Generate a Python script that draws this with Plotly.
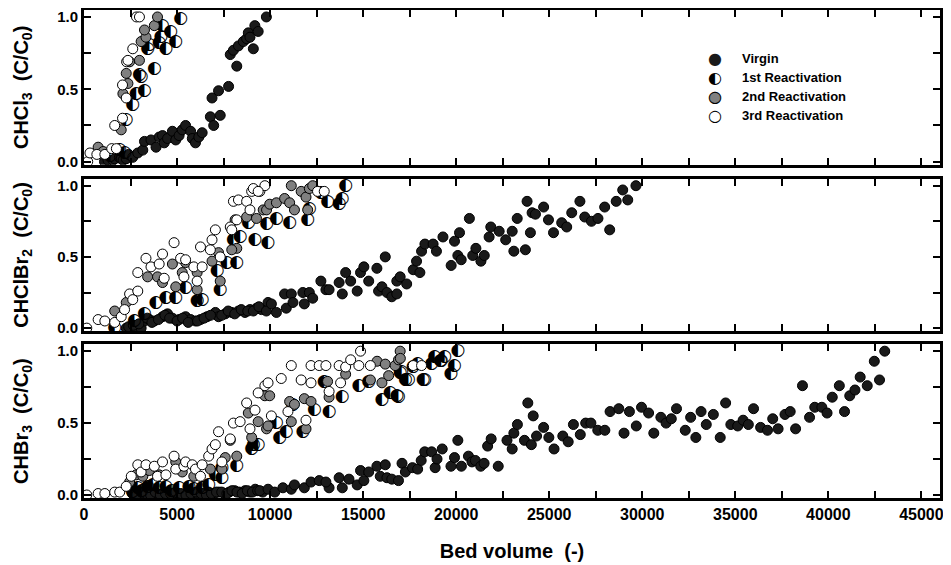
import plotly.graph_objects as go
from plotly.subplots import make_subplots

# ---- CHCl3 panel ----
chcl3_virgin_x = [1100, 1290, 1560, 1650, 1900, 2000, 2100, 2270, 2400, 2620, 2890, 3160, 3250, 3600, 3870,
                  4040, 4220, 4310, 4490, 4750, 4930, 5110, 5280, 5460, 5730, 5820, 5990, 6170, 6350, 6790,
                  6970, 7320, 6880, 7230, 7770, 7860, 8030, 8210, 8300, 8560, 8740, 8830, 8920, 9100, 9180,
                  9360, 9800]
chcl3_virgin_y = [0.00, 0.01, 0.01, 0.02, 0.03, 0.02, 0.01, 0.02, 0.05, 0.03, 0.06, 0.08, 0.14, 0.15, 0.10,
                  0.17, 0.18, 0.13, 0.16, 0.21, 0.15, 0.18, 0.22, 0.25, 0.21, 0.16, 0.13, 0.17, 0.20, 0.31,
                  0.25, 0.32, 0.44, 0.49, 0.52, 0.74, 0.77, 0.66, 0.80, 0.83, 0.85, 0.89, 0.86, 0.78, 0.94,
                  0.90, 1.00]
chcl3_r1_x = [1400, 1920, 2180, 2270, 2620, 2800, 2980, 3250, 3070, 3780, 3420, 4040, 4130, 4400, 4220,
              4660, 4930, 5190, 3510]
chcl3_r1_y = [0.04, 0.08, 0.06, 0.29, 0.39, 0.47, 0.60, 0.49, 0.59, 0.64, 0.78, 0.82, 0.86, 0.78, 0.94,
              0.90, 0.83, 0.99, 0.81]
chcl3_r2_x = [760, 1030, 2000, 2090, 2360, 2270, 2980, 3070, 3330, 3250, 3780, 3950, 2450]
chcl3_r2_y = [0.10, 0.07, 0.22, 0.47, 0.54, 0.61, 0.70, 0.83, 0.86, 0.91, 0.94, 1.00, 0.69]
chcl3_r3_x = [200, 320, 690, 1120, 1490, 1650, 2070, 2070, 2270, 2290, 2360, 2620, 2820, 2980, 1740]
chcl3_r3_y = [0.00, 0.06, 0.05, 0.05, 0.09, 0.25, 0.30, 0.53, 0.44, 0.69, 0.70, 0.78, 1.00, 1.00, 0.09]

# ---- CHClBr2 panel ----
chclbr2_virgin_x = [2270, 2540, 2800, 3070, 3250, 3510, 3780, 4220, 4490, 4750, 5110, 5460, 5730, 5990, 6260,
                    6610, 7060, 7230, 7590, 7940, 8300, 8650, 8920, 9270, 9540, 9890,
                    2400, 2650, 2950, 3400, 3650, 4000, 4350, 4600, 5000, 5300, 5600, 6100, 6450, 6800,
                    7400, 7750, 8100, 8450, 8800, 9100, 9400,
                    9800, 10070, 10340, 10780, 10870, 11140, 11230, 11760, 11840, 12110, 12290, 12730, 13000,
                    13170, 13710, 13880, 14060, 14330, 14680, 14860, 15040, 15300, 15740, 15830, 16010, 16190,
                    16280, 16540, 16810, 16810, 16990, 17340, 17690, 17870, 18050,
                    18140, 18320, 18760, 18940, 19290, 19730, 19910, 20090, 20180, 20270, 20710, 20890, 21060,
                    21330, 21510, 21770, 21860, 22310, 22660, 23010, 23100, 23280, 23720, 23810, 23990, 24080,
                    24260, 24700, 24960, 25230, 25670, 25940, 26210, 26650, 26910, 27270, 27620, 27980, 28250,
                    28600, 28950, 29220, 29660]
chclbr2_virgin_y = [0.00, 0.00, 0.00, 0.00, 0.05, 0.06, 0.05, 0.08, 0.10, 0.07, 0.06, 0.08, 0.06, 0.05, 0.06,
                    0.08, 0.11, 0.08, 0.10, 0.11, 0.12, 0.11, 0.13, 0.14, 0.13, 0.18,
                    0.01, 0.02, 0.03, 0.07, 0.04, 0.06, 0.09, 0.07, 0.05, 0.07, 0.04, 0.05, 0.07, 0.09,
                    0.09, 0.12, 0.10, 0.13, 0.12, 0.12, 0.15,
                    0.12, 0.17, 0.11, 0.24, 0.14, 0.24, 0.18, 0.25, 0.17, 0.25, 0.21, 0.33, 0.27,
                    0.27, 0.32, 0.24, 0.39, 0.33, 0.26, 0.39, 0.43, 0.33, 0.42, 0.26, 0.29, 0.50,
                    0.25, 0.22, 0.24, 0.33, 0.36, 0.31, 0.41, 0.47, 0.39,
                    0.54, 0.59, 0.59, 0.54, 0.64, 0.44, 0.61, 0.51, 0.67, 0.48, 0.77, 0.51, 0.56,
                    0.47, 0.51, 0.64, 0.71, 0.68, 0.62, 0.68, 0.54, 0.77, 0.55, 0.89, 0.67, 0.81,
                    0.80, 0.85, 0.76, 0.67, 0.74, 0.71, 0.81, 0.89, 0.78, 0.75, 0.77, 0.85, 0.69,
                    0.89, 0.97, 0.90, 1.00]
chclbr2_r1_x = [1650, 2710, 3250, 3870, 4400, 4930, 5460, 6080, 6350, 7320, 7150, 7680, 8210, 8030, 8390,
                9180, 9810, 8830, 9890, 10340, 11050, 12020, 12110, 13090, 13710, 13880, 14060, 12730]
chclbr2_r1_y = [0.00, 0.05, 0.10, 0.18, 0.21, 0.21, 0.28, 0.19, 0.20, 0.27, 0.40, 0.46, 0.46, 0.62, 0.64,
                0.62, 0.73, 0.74, 0.60, 0.77, 0.74, 0.76, 0.84, 0.89, 0.87, 0.91, 1.00, 0.95]
chclbr2_r2_x = [1650, 2270, 3420, 3950, 4220, 4750, 4930, 5280, 5460, 6080, 6080, 6880, 7230, 7320, 8210,
                7940, 8120, 8740, 9270, 9630, 9810, 9980, 10340, 10780, 11050, 11140, 11310, 11670, 11930,
                12020, 12110, 12290]
chclbr2_r2_y = [0.12, 0.18, 0.36, 0.36, 0.32, 0.45, 0.29, 0.39, 0.46, 0.39, 0.27, 0.47, 0.53, 0.33, 0.56,
                0.55, 0.76, 0.78, 0.77, 0.83, 0.83, 0.87, 0.88, 0.91, 0.88, 1.00, 0.83, 0.96, 0.92,
                0.83, 0.98, 1.00]
chclbr2_r3_x = [150, 760, 1120, 1650, 2000, 2180, 2450, 2620, 2890, 2890, 3330, 3600, 4040, 4220, 4310,
                4840, 5190, 5460, 5370, 5900, 6080, 6260, 6350, 6790, 6880, 7060, 7320, 7860, 7940, 8030,
                8300, 8740, 9010, 9100, 9450, 9720, 8210, 8920, 9360, 12550, 12910]
chclbr2_r3_y = [0.00, 0.06, 0.05, 0.04, 0.08, 0.13, 0.24, 0.20, 0.39, 0.26, 0.49, 0.43, 0.45, 0.52, 0.35,
                0.60, 0.49, 0.48, 0.36, 0.43, 0.33, 0.57, 0.43, 0.55, 0.62, 0.69, 0.50, 0.71, 0.69, 0.89,
                0.90, 0.89, 0.96, 0.98, 0.96, 1.00, 0.76, 0.83, 0.96, 0.96, 0.96]

# ---- CHBr3 panel ----
chbr3_virgin_x = [2700, 2950, 3200, 3450, 3700, 3950, 4250, 4500, 4800, 5050, 5350, 5600, 5900, 6150, 6450,
                  6700, 7000, 7250, 7550, 7800, 8100, 8350, 8650, 8900, 9200,
                  2600, 2820, 3080, 3330, 3580, 3830, 4100, 4380, 4650, 4920, 5200, 5480, 5750, 6020,
                  6300, 6580, 6850, 7120, 7400, 7680, 7950, 8220, 8500, 8780, 9050, 9330, 9600,
                  9450, 9890, 10250, 10690, 11140, 11310, 11840, 12200, 12640, 13170, 13000, 13710, 13880,
                  14240, 14680, 14860, 15040, 15300, 15740, 15920, 16190, 16280, 16540,
                  16900, 17090, 17270, 17650, 17930, 18120, 18310, 18680, 18870, 18970, 19250, 19720, 19910,
                  20090, 20280, 20660, 20850, 21030, 21320, 21500, 21690, 21880, 22260, 22730, 23010, 23100,
                  23290, 23670, 23850, 24040, 24140, 24320, 24700, 24980, 25260, 25730, 26020, 26300, 26670,
                  26960, 27240, 27610, 27990, 28270, 28740, 29020, 29310, 29680, 29960, 30340, 30620, 31000,
                  31280, 31560, 31840, 32310, 32600, 32880, 33160, 33440, 33820, 34190, 34480, 34760, 35130,
                  35420, 35700, 35980, 36360, 36730, 37010, 37300, 37670, 37950, 38240, 38610, 38990, 39270,
                  39650, 39930, 40210, 40590, 40870, 41150, 41430, 41710, 42090, 42470, 42750, 43030]
chbr3_virgin_y = [0.00, 0.01, 0.00, 0.02, 0.01, 0.00, 0.01, 0.02, 0.00, 0.01, 0.00, 0.02, 0.01, 0.00, 0.01,
                  0.02, 0.01, 0.02, 0.01, 0.02, 0.03, 0.02, 0.03, 0.02, 0.04,
                  0.01, 0.00, 0.02, 0.01, 0.00, 0.02, 0.00, 0.01, 0.01, 0.02, 0.01, 0.00, 0.01, 0.02,
                  0.01, 0.00, 0.01, 0.02, 0.02, 0.01, 0.03, 0.02, 0.01, 0.03, 0.02, 0.03, 0.02,
                  0.03, 0.04, 0.02, 0.05, 0.04, 0.07, 0.05, 0.09, 0.10, 0.05, 0.09, 0.12, 0.05,
                  0.11, 0.07, 0.17, 0.10, 0.16, 0.20, 0.13, 0.21, 0.12, 0.11,
                  0.10, 0.22, 0.16, 0.19, 0.18, 0.24, 0.30, 0.30, 0.19, 0.25, 0.32, 0.20, 0.26,
                  0.38, 0.20, 0.27, 0.23, 0.24, 0.20, 0.22, 0.34, 0.39, 0.20, 0.38, 0.32, 0.43,
                  0.49, 0.38, 0.64, 0.35, 0.55, 0.41, 0.47, 0.40, 0.32, 0.41, 0.37, 0.49, 0.42,
                  0.50, 0.50, 0.45, 0.45, 0.58, 0.60, 0.43, 0.58, 0.48, 0.61, 0.57, 0.43, 0.54,
                  0.50, 0.53, 0.60, 0.45, 0.54, 0.40, 0.58, 0.49, 0.56, 0.40, 0.64, 0.49, 0.48,
                  0.52, 0.49, 0.60, 0.47, 0.45, 0.53, 0.46, 0.56, 0.58, 0.46, 0.76, 0.54, 0.61,
                  0.61, 0.57, 0.68, 0.76, 0.58, 0.69, 0.73, 0.82, 0.76, 0.93, 0.80, 1.00]
chbr3_r1_x = [2890, 3420, 4040, 4400, 5110, 5640, 6350, 7060, 7410, 8210, 7410, 9010, 9100, 9360, 10340,
              10870, 10510, 11220, 11760, 12380, 13170, 13880, 14770, 16010, 16810, 17070, 17430, 17690,
              18230, 18850, 19200, 19380, 12910, 15300, 16450, 16990, 17270, 17930, 18310, 18680, 19150,
              19720, 19910, 20090, 16900, 2600, 3100, 3700, 4700, 5900, 6700]
chbr3_r1_y = [0.05, 0.06, 0.05, 0.06, 0.05, 0.06, 0.05, 0.14, 0.12, 0.20, 0.19, 0.32, 0.35, 0.35, 0.50,
              0.44, 0.40, 0.63, 0.44, 0.59, 0.58, 0.68, 0.76, 0.66, 0.69, 0.86, 0.80, 0.89,
              0.80, 0.96, 0.93, 0.96, 0.79, 0.79, 0.71, 0.85, 0.80, 0.91, 0.80, 0.91, 0.93,
              0.84, 0.90, 1.00, 0.68, 0.02, 0.03, 0.07, 0.03, 0.04, 0.07]
chbr3_r2_x = [2450, 2800, 3160, 3510, 4040, 4930, 5280, 5900, 6790, 7410, 7590, 7860, 8210, 8830, 9010,
              9360, 9720, 9810, 9980, 9890, 11050, 11310, 11140, 11840, 12200, 13090, 13170, 11930, 14060,
              15390, 15750, 16190, 16370, 16720, 16900, 16990, 16010, 17000]
chbr3_r2_y = [0.09, 0.14, 0.13, 0.17, 0.14, 0.23, 0.16, 0.13, 0.18, 0.18, 0.26, 0.38, 0.27, 0.57, 0.40,
              0.51, 0.69, 0.46, 0.69, 0.48, 0.65, 0.63, 0.51, 0.67, 0.65, 0.79, 0.68, 0.46, 0.84,
              0.80, 0.93, 0.91, 0.83, 0.90, 0.94, 1.00, 0.78, 0.95]
chbr3_r3_x = [150, 760, 1120, 1650, 1920, 2270, 2540, 2890, 3070, 3330, 3780, 4220, 3950, 4400, 4840,
              4930, 5370, 5460, 5820, 5990, 6260, 6350, 6700, 6880, 7060, 7230, 7410, 7860, 8030, 8390,
              8740, 8920, 9360, 9720, 9190, 9890, 10070, 10600, 11140, 10960, 11670, 11930, 12200, 12640,
              13000, 12200, 13170, 13710, 14060, 14330, 14770, 14860, 13790, 15390, 17690, 18140]
chbr3_r3_y = [0.00, 0.01, 0.01, 0.02, 0.02, 0.06, 0.13, 0.21, 0.16, 0.21, 0.20, 0.23, 0.13, 0.14, 0.27,
              0.18, 0.20, 0.23, 0.21, 0.18, 0.13, 0.21, 0.27, 0.32, 0.35, 0.44, 0.23, 0.39, 0.50, 0.51,
              0.64, 0.46, 0.71, 0.76, 0.59, 0.78, 0.55, 0.81, 0.90, 0.58, 0.80, 0.52, 0.90, 0.90,
              0.90, 0.78, 0.72, 0.90, 0.89, 0.94, 0.90, 1.00, 0.78, 0.90, 0.90, 0.90]

series_names = ["Virgin", "1st Reactivation", "2nd Reactivation", "3rd Reactivation"]
x_ticks = list(range(0, 45001, 2500))

panels = [
    ("CHCl<sub>3</sub>", [(chcl3_virgin_x, chcl3_virgin_y), (chcl3_r1_x, chcl3_r1_y),
                          (chcl3_r2_x, chcl3_r2_y), (chcl3_r3_x, chcl3_r3_y)]),
    ("CHClBr<sub>2</sub>", [(chclbr2_virgin_x, chclbr2_virgin_y), (chclbr2_r1_x, chclbr2_r1_y),
                            (chclbr2_r2_x, chclbr2_r2_y), (chclbr2_r3_x, chclbr2_r3_y)]),
    ("CHBr<sub>3</sub>", [(chbr3_virgin_x, chbr3_virgin_y), (chbr3_r1_x, chbr3_r1_y),
                          (chbr3_r2_x, chbr3_r2_y), (chbr3_r3_x, chbr3_r3_y)]),
]

for name, ser in panels:
    for xs, ys in ser:
        if len(xs) != len(ys):
            raise ValueError(f"length mismatch in {name}: {len(xs)} vs {len(ys)}")

FONT = "Liberation Sans"
GLYPH_FONT = "DejaVu Sans"
fill_colors = ["#1a1a1a", None, "#808080", "white"]

fig = make_subplots(rows=3, cols=1, shared_xaxes=True)

for row, (name, ser) in enumerate(panels, start=1):
    for i, (xs, ys) in enumerate(ser):
        if i == 1:
            # half-filled circle: drawn as a glyph at each data point
            fig.add_trace(go.Scatter(x=xs, y=ys, mode="text", text=["\u25d0"] * len(xs),
                                     textposition="middle center",
                                     textfont=dict(family=GLYPH_FONT, size=17, color="black"),
                                     name=series_names[i], showlegend=False, hoverinfo="x+y"),
                          row=row, col=1)
        else:
            fig.add_trace(go.Scatter(x=xs, y=ys, mode="markers",
                                     marker=dict(size=10, color=fill_colors[i],
                                                 line=dict(color="black", width=1)),
                                     name=series_names[i], showlegend=False),
                          row=row, col=1)

domains = [[0.683, 1.0], [0.342, 0.654], [0.0, 0.315]]
axis_common = dict(showline=True, linewidth=3, linecolor="black", mirror="ticks",
                   ticks="inside", ticklen=7, tickwidth=2, tickcolor="black",
                   showgrid=False, zeroline=False, automargin=False, ticklabeloverflow="allow",
                   tickfont=dict(family=FONT, size=15, color="black", weight="bold"))

for row, (name, ser) in enumerate(panels, start=1):
    fig.update_yaxes(axis_common, row=row, col=1)
    fig.update_yaxes(domain=domains[row - 1], range=[-0.021, 1.048],
                     tickvals=[0, 0.25, 0.5, 0.75, 1.0],
                     ticktext=["0.0", "", "0.5", "", "1.0"],
                     title=dict(text=name + "\u00a0 (C/C<sub>0</sub>)", standoff=24,
                                font=dict(family=FONT, size=20, color="black", weight="bold")),
                     row=row, col=1)
    fig.update_xaxes(axis_common, row=row, col=1)
    fig.update_xaxes(range=[0, 46000], tickvals=x_ticks,
                     ticktext=[str(v) if v % 5000 == 0 else "" for v in x_ticks],
                     showticklabels=(row == 3), row=row, col=1)

fig.update_xaxes(tickfont=dict(size=16),
                 title=dict(text="Bed volume\u00a0 (-)", standoff=22,
                            font=dict(family=FONT, size=20, color="black", weight="bold")),
                 row=3, col=1)

# legend built from glyph + label annotations (half-filled symbol is not a plotly marker)
legend_glyphs = [
    [("\u25cf", "#1a1a1a")],
    [("\u25d0", "black")],
    [("\u25cf", "#808080"), ("\u25cb", "black")],
    [("\u25cb", "black")],
]
legend_y0, legend_dy = 0.900, 0.039
for k, name in enumerate(series_names):
    yk = legend_y0 - k * legend_dy
    for ch, col in legend_glyphs[k]:
        fig.add_annotation(x=0.737, y=yk, xref="paper", yref="paper", text=ch, showarrow=False,
                           xanchor="center", yanchor="middle",
                           font=dict(family=GLYPH_FONT, size=16, color=col))
    fig.add_annotation(x=0.766, y=yk, xref="paper", yref="paper", text=name, showarrow=False,
                       xanchor="left", yanchor="middle",
                       font=dict(family=FONT, size=13, color="black", weight="bold"))

# the page body adds an 8 px offset, so the figure is drawn 8 px smaller
fig.update_layout(
    width=943, height=557,
    margin=dict(l=76, r=11, t=2, b=67),
    paper_bgcolor="white", plot_bgcolor="white",
    font=dict(family=FONT, color="black"),
    showlegend=False,
)

fig.write_html("out.html")
